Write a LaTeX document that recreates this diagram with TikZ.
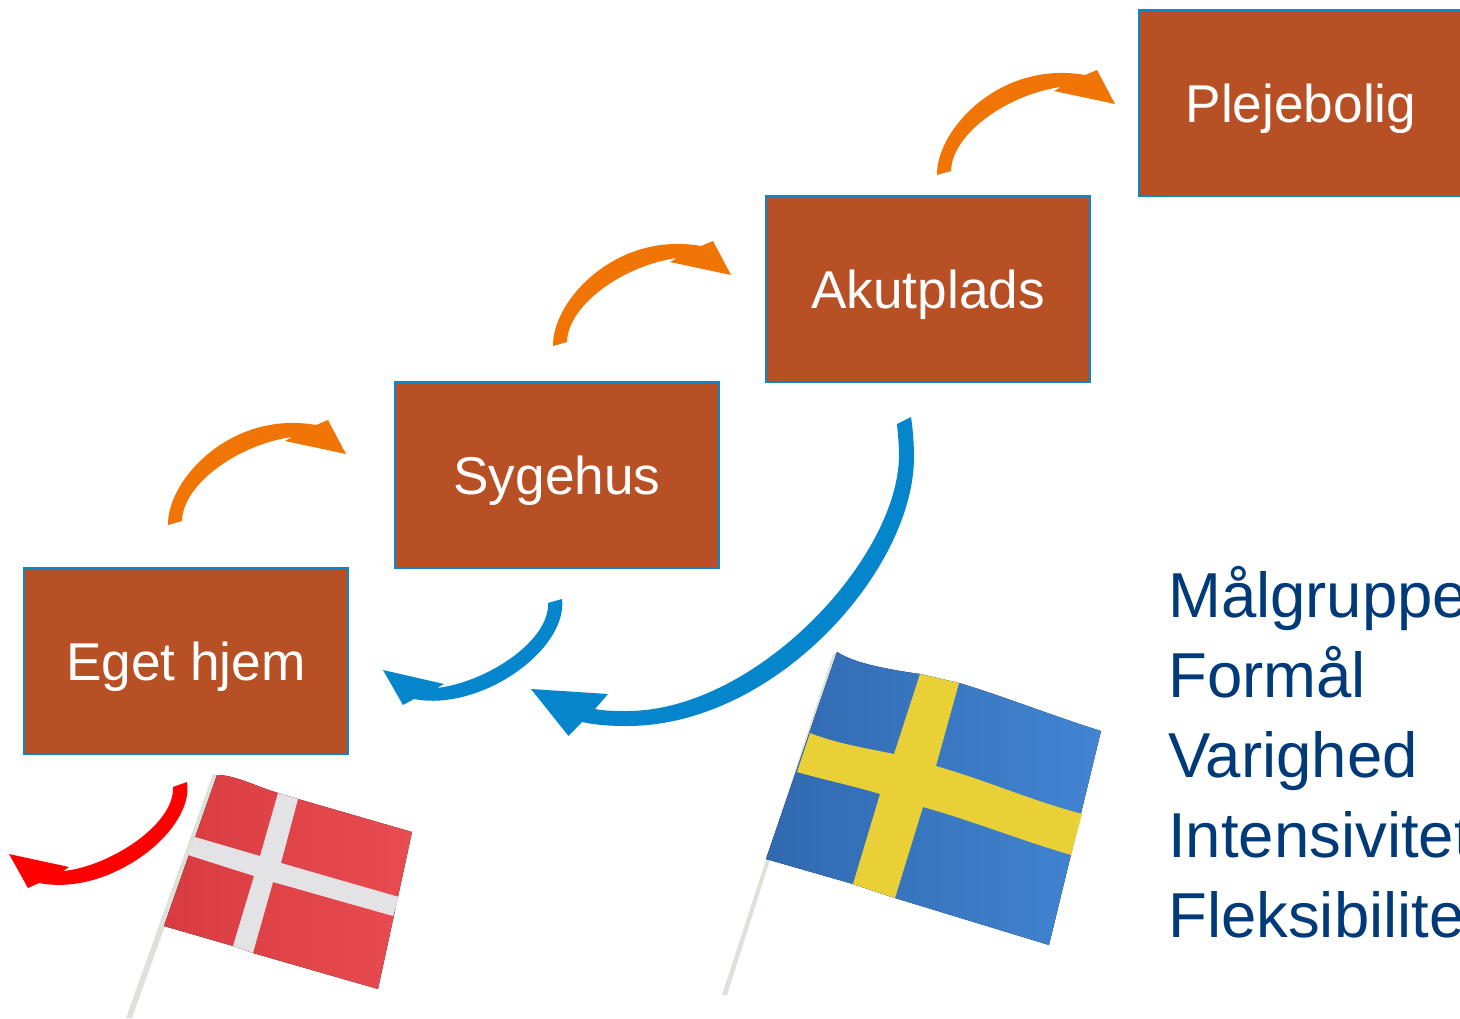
\documentclass[tikz,border=0pt]{standalone}
\usepackage{fontspec}
\setmainfont{Liberation Sans}
\definecolor{boxfill}{HTML}{B85026}
\definecolor{boxline}{HTML}{0A87CC}
\definecolor{orangearrow}{HTML}{F07504}
\definecolor{bluearrow}{HTML}{0485CC}
\definecolor{textblue}{HTML}{003A78}
\definecolor{stickgrey}{HTML}{DEE0DA}
\definecolor{crosswhite}{HTML}{E3E3E5}
\definecolor{crossyellow}{HTML}{E8D036}
\definecolor{redleft}{HTML}{D83C40}
\definecolor{redright}{HTML}{E94C50}
\definecolor{blueleft}{HTML}{3069B0}
\definecolor{blueright}{HTML}{4285D2}
\tikzset{
  stepbox/.style={draw=boxline,line width=2pt,fill=boxfill,text=white,inner sep=0pt,
    minimum width=324pt,minimum height=186pt,text height=38pt,text depth=0pt,
    font=\fontsize{53.2}{60}\selectfont},
  listtext/.style={anchor=base west,inner sep=0pt,text=textblue,font=\fontsize{63.5}{70}\selectfont},
  upward arrow/.pic={\fill[orangearrow] (0,0) .. controls (-1,-45) and (63,-115) .. (148,-100)
     -- (160,-105) -- (178,-71) -- (117,-84) -- (124,-88)
     .. controls (72,-81) and (15,-42) .. (14,-4) -- cycle;}
}
\begin{document}
\begin{tikzpicture}[x=1pt,y=-1pt]
\useasboundingbox (0,0) rectangle (1460,1018);
\clip (0,0) rectangle (1460,1018);

% boxes
\node[stepbox] (hjem) at (186,661) {Eget hjem};
\node[stepbox] (syge) at (557,475) {Sygehus};
\node[stepbox] (akut) at (928,289) {Akutplads};
\node[stepbox] (pleje) at (1301,103) {Plejebolig};

% upward arrows
\coordinate (up1) at (168,525);
\coordinate (up2) at (553,346);
\coordinate (up3) at (937,175);
\pic at (up1) {upward arrow};
\pic at (up2) {upward arrow};
\pic at (up3) {upward arrow};

% big blue arrow
\fill[bluearrow] (911,417) .. controls (913,430) and (914,445) .. (914,457)
  .. controls (914,570) and (775,726) .. (627,726)
  .. controls (610,726) and (595,725) .. (582,722)
  -- (568.5,736) -- (531,689) -- (608,694) -- (595,709)
  .. controls (605,711) and (616,711) .. (627,711)
  .. controls (755,711) and (897,560) .. (899,457)
  .. controls (899,445) and (898,435) .. (897,424) -- cycle;

% small blue arrow
\fill[bluearrow] (562,599) .. controls (568,650) and (480,712) .. (414,699)
  -- (403,705) -- (383,670) -- (444,684) -- (437,688)
  .. controls (488,682) and (550,640) .. (548,603) -- cycle;

% red arrow
\fill[red] (187,782) .. controls (195,830) and (110,897) .. (39,883)
  -- (28,888) -- (9,854) -- (69,867) -- (63,871)
  .. controls (108,867) and (175,825) .. (173,787) -- cycle;

% Danish flag
\fill[stickgrey] (217,775) -- (213,774) -- (126,1018) -- (132,1018) -- (165,926) -- cycle;
\fill[left color=redleft,right color=redright]
  (217,775) .. controls (235,775) and (255,786) .. (278,793)
  -- (298,799) -- (412,832) -- (378,989) -- (253,953) -- (233,946) -- (164,926) -- cycle;
\fill[crosswhite] (195,837) -- (260,856) -- (278,793) -- (298,799) -- (281,863) -- (399,897)
  -- (393,916) -- (273,882) -- (253,953) -- (233,946) -- (254,876) -- (188,855) -- cycle;

% Swedish flag
\fill[stickgrey] (837,652) -- (833,654) -- (722,995) -- (727,995) -- (770,860) -- cycle;
\fill[left color=blueleft,right color=blueright]
  (837,652) .. controls (850,660) and (870,667) .. (920,674)
  -- (959,683) .. controls (1000,695) and (1050,715) .. (1101,731)
  -- (1049,945) -- (895,898) -- (853,884) -- (766,859) -- cycle;
\fill[crossyellow] (810,733) .. controls (835,743) and (865,748) .. (894,754)
  -- (920,674) -- (959,683) -- (936,766)
  .. controls (985,780) and (1030,800) .. (1082,814)
  -- (1071,855) .. controls (1020,840) and (970,820) .. (923,807)
  -- (895,898) -- (853,884) -- (880,794)
  .. controls (850,785) and (825,780) .. (797,772) -- cycle;

% list
\node[listtext] (l1) at (1168,617) {Målgruppe};
\node[listtext] (l2) at (1168,697) {Formål};
\node[listtext] (l3) at (1168,777) {Varighed};
\node[listtext] (l4) at (1168,857) {Intensivitet};
\node[listtext] (l5) at (1168,937) {Fleksibilitet};
\end{tikzpicture}
\end{document}
